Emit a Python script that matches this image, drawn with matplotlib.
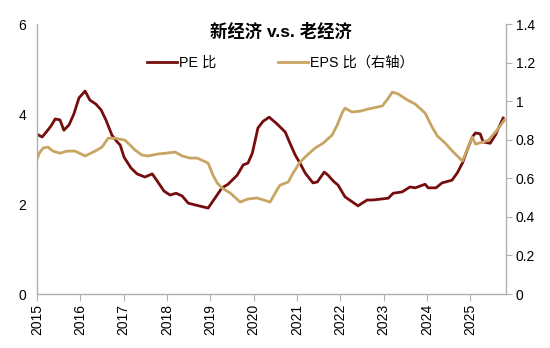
import matplotlib
matplotlib.use("Agg")
import matplotlib.pyplot as plt

plt.rcParams['font.family'] = ['Liberation Sans', 'Noto Sans CJK SC', 'DejaVu Sans']

# PE ratio, new economy vs old economy (left axis)
pe_dates = [2015.00, 2015.12, 2015.23, 2015.32, 2015.42, 2015.53, 2015.62, 2015.74, 2015.85, 2015.97,
            2016.11, 2016.22, 2016.36, 2016.48, 2016.59, 2016.73, 2016.85, 2016.92, 2017.01, 2017.17,
            2017.31, 2017.49, 2017.66, 2017.79, 2017.93, 2018.07, 2018.21, 2018.35, 2018.49, 2018.65,
            2018.95, 2019.27, 2019.41, 2019.62, 2019.76, 2019.87, 2019.97, 2020.10, 2020.22, 2020.36,
            2020.54, 2020.73, 2020.84, 2020.96, 2021.07, 2021.19, 2021.37, 2021.47, 2021.63, 2021.72,
            2021.84, 2021.95, 2022.11, 2022.32, 2022.41, 2022.62, 2022.76, 2023.11, 2023.22, 2023.43,
            2023.61, 2023.73, 2023.96, 2024.03, 2024.21, 2024.35, 2024.58, 2024.70, 2024.82, 2024.93,
            2025.05, 2025.12, 2025.23, 2025.30, 2025.46, 2025.58, 2025.76]
pe_ratio = [3.55, 3.49, 3.62, 3.73, 3.89, 3.87, 3.64, 3.76, 4.00, 4.36,
            4.51, 4.31, 4.22, 4.09, 3.87, 3.53, 3.38, 3.31, 3.04, 2.80,
            2.67, 2.60, 2.67, 2.49, 2.29, 2.20, 2.24, 2.18, 2.02, 1.98,
            1.91, 2.36, 2.44, 2.64, 2.87, 2.91, 3.13, 3.69, 3.84, 3.93,
            3.78, 3.60, 3.35, 3.09, 2.91, 2.69, 2.47, 2.49, 2.71, 2.64,
            2.51, 2.42, 2.16, 2.02, 1.96, 2.09, 2.09, 2.13, 2.24, 2.27,
            2.38, 2.36, 2.44, 2.36, 2.36, 2.47, 2.53, 2.69, 2.91, 3.20,
            3.49, 3.58, 3.56, 3.38, 3.35, 3.53, 3.91]

# EPS ratio (right axis)
eps_dates = [2015.00, 2015.05, 2015.14, 2015.25, 2015.37, 2015.53, 2015.69, 2015.88, 2016.11, 2016.34,
             2016.50, 2016.64, 2016.80, 2017.03, 2017.15, 2017.26, 2017.42, 2017.56, 2017.79, 2018.00,
             2018.19, 2018.35, 2018.53, 2018.70, 2018.95, 2019.06, 2019.16, 2019.27, 2019.46, 2019.69,
             2019.87, 2020.08, 2020.38, 2020.54, 2020.61, 2020.80, 2020.91, 2021.07, 2021.24, 2021.42,
             2021.61, 2021.81, 2021.93, 2022.04, 2022.11, 2022.27, 2022.46, 2022.64, 2022.97, 2023.11,
             2023.20, 2023.34, 2023.55, 2023.73, 2023.96, 2024.12, 2024.24, 2024.42, 2024.61, 2024.82,
             2024.93, 2025.05, 2025.12, 2025.30, 2025.42, 2025.62, 2025.79]
eps_ratio = [0.700, 0.730, 0.757, 0.762, 0.741, 0.730, 0.741, 0.741, 0.716, 0.741,
             0.762, 0.808, 0.808, 0.798, 0.772, 0.747, 0.721, 0.716, 0.726, 0.731,
             0.736, 0.716, 0.705, 0.705, 0.679, 0.617, 0.576, 0.550, 0.524, 0.477,
             0.493, 0.498, 0.477, 0.540, 0.565, 0.581, 0.627, 0.684, 0.721, 0.757,
             0.783, 0.824, 0.876, 0.938, 0.964, 0.944, 0.948, 0.959, 0.975, 1.016,
             1.047, 1.037, 1.006, 0.985, 0.938, 0.866, 0.820, 0.783, 0.736, 0.690,
             0.747, 0.814, 0.778, 0.788, 0.798, 0.850, 0.902]

years = list(range(2015, 2026))
pe_color = '#760d0d'
eps_color = '#c9a563'
axis_gray = '#b0b0b0'

fig = plt.figure(figsize=(5.5, 3.48), dpi=100)
ax = fig.add_axes([0.0673, 0.155, 0.853, 0.776])
ax2 = ax.twinx()

l1, = ax.plot(pe_dates, pe_ratio, color=pe_color, lw=2.0, label='PE 比')
l2, = ax2.plot(eps_dates, eps_ratio, color=eps_color, lw=2.0, label='EPS 比（右轴）')

ax.set_xlim(2015, 2025.83)
ax.set_ylim(0, 6)
ax.set_yticks([0, 2, 4, 6])
ax2.set_ylim(0, 1.4)
ax2.set_yticks([0, 0.2, 0.4, 0.6, 0.8, 1.0, 1.2, 1.4])
ax2.set_yticklabels(['0', '0.2', '0.4', '0.6', '0.8', '1', '1.2', '1.4'])
ax.set_xticks(years)
ax.set_xticklabels([str(y) for y in years], rotation=90)

for a in (ax, ax2):
    a.spines['top'].set_visible(False)
    for s in ('left', 'right', 'bottom'):
        a.spines[s].set_color(axis_gray)
        a.spines[s].set_linewidth(1.0)
ax.spines['right'].set_visible(False)
ax2.spines['left'].set_visible(False)
ax2.spines['bottom'].set_visible(False)

ax.tick_params(axis='x', direction='out', length=5, color=axis_gray, labelsize=10, pad=2)
ax.tick_params(axis='y', length=0, labelsize=10, pad=8)
ax2.tick_params(axis='y', direction='out', length=4, color=axis_gray, labelsize=10, pad=3)

ax.text(0.52, 0.974, '新经济 v.s. 老经济', transform=ax.transAxes, ha='center', va='center',
        fontsize=12.5, fontweight='bold')
ax2.legend(handles=[l1, l2], loc='center', bbox_to_anchor=(0.518, 0.856), ncol=2, frameon=False,
           fontsize=10.3, handlelength=2.1, handletextpad=0.15, columnspacing=4.3)

fig.savefig('out.png', dpi=100)
